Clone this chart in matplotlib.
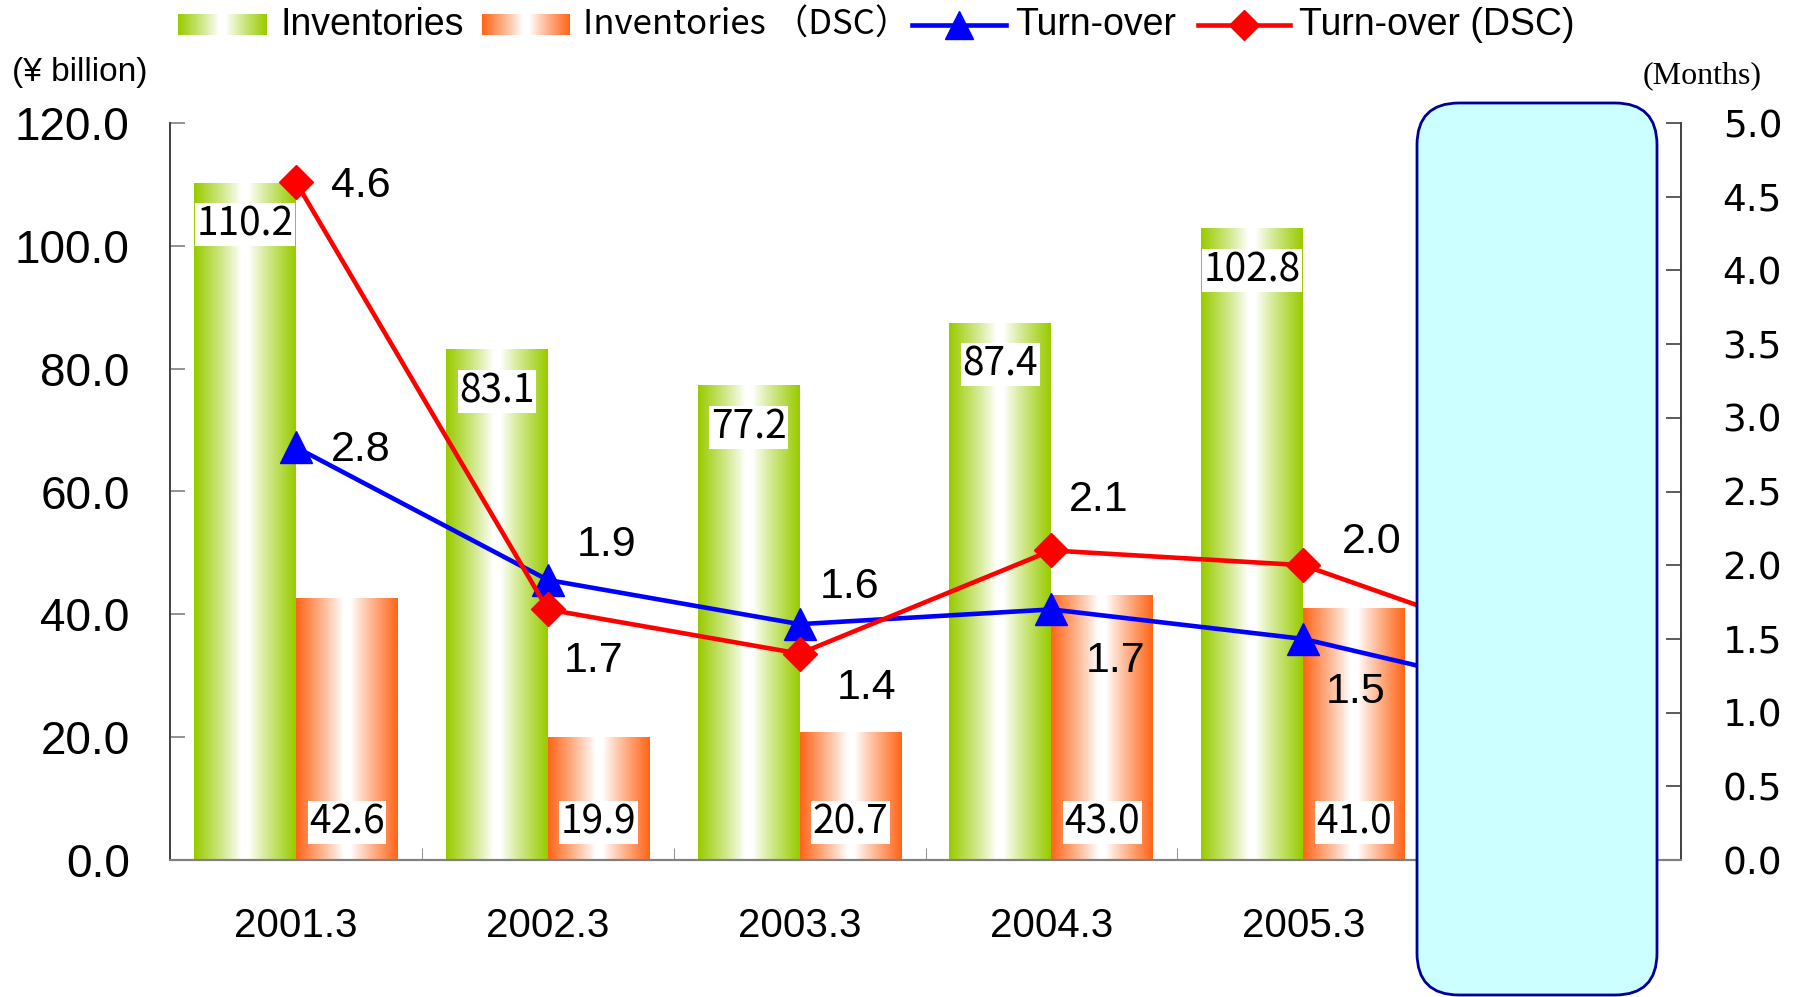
import numpy as np
import matplotlib.pyplot as plt
from matplotlib.patches import FancyBboxPatch
from matplotlib.transforms import IdentityTransform

# data
categories = ["2001.3", "2002.3", "2003.3", "2004.3", "2005.3", "2006.3"]
inventories = [110.2, 83.1, 77.2, 87.4, 102.8]
inventories_dsc = [42.6, 19.9, 20.7, 43.0, 41.0]
turnover = [2.8, 1.9, 1.6, 1.7, 1.5, 1.1]
turnover_dsc = [4.6, 1.7, 1.4, 2.1, 2.0, 1.4]
left_ticks = [0, 20, 40, 60, 80, 100, 120]
right_ticks = [0, 0.5, 1.0, 1.5, 2.0, 2.5, 3.0, 3.5, 4.0, 4.5, 5.0]

# label offsets (points) for the line value labels
off_turn = [(47, -2), (42, 25), (36, 27), (46, -37), (38, -38)]
off_dsc = [(47, -3), (33, -37), (48, -25), (34, 36), (49, 17)]

GREEN = np.array([0.60, 0.80, 0.0])
ORANGE = np.array([1.0, 0.40, 0.10])
narrow = ['Liberation Sans Narrow', 'Liberation Sans', 'DejaVu Sans']
jp = ['Noto Sans CJK JP', 'DejaVu Sans']

def gradient(col, n=80):
    t = np.linspace(-1, 1, n)
    w = np.clip((np.abs(t) - 0.08) / 0.92, 0, 1) ** 0.9
    g = (1 - w)[:, None] * np.ones(3) + w[:, None] * col
    return g[None, :, :]

fig = plt.figure(figsize=(17.98, 9.97), dpi=100)
ax = fig.add_axes([170 / 1798, 1 - 860 / 997, 1511 / 1798, 737 / 997])
ax2 = ax.twinx()

bw = 0.405
x = np.arange(len(categories))
for i, v in enumerate(inventories):
    ax.imshow(gradient(GREEN), extent=(x[i] - bw, x[i], 0, v), aspect='auto', zorder=2)
for i, v in enumerate(inventories_dsc):
    ax.imshow(gradient(ORANGE), extent=(x[i], x[i] + bw, 0, v), aspect='auto', zorder=2)

# green labels just below the bar top, orange labels near the base
for i, v in enumerate(inventories):
    ax.annotate("%.1f" % v, (x[i] - bw / 2, v), xytext=(0, -30), textcoords='offset points',
                ha='center', va='center', fontsize=28, family=jp, zorder=3,
                bbox=dict(facecolor='white', edgecolor='none', pad=1))
for i, v in enumerate(inventories_dsc):
    ax.annotate("%.1f" % v, (x[i] + bw / 2, 0), xytext=(0, 27), textcoords='offset points',
                ha='center', va='center', fontsize=28, family=jp, zorder=3,
                bbox=dict(facecolor='white', edgecolor='none', pad=1))

ax.set_xlim(-0.5, len(categories) - 0.5)
ax.set_ylim(0, 120)
ax.set_yticks(left_ticks)
ax.set_yticklabels(["%.1f" % t for t in left_ticks], family=narrow, fontsize=33)
ax.set_xticks(x)
ax.set_xticklabels(categories, family=narrow, fontsize=29)
ax.set_xticks(np.arange(len(categories) + 1) - 0.5, minor=True)
ax.tick_params(axis='x', which='major', length=0, pad=34)
ax.tick_params(axis='x', which='minor', direction='in', length=9, color='#808080')
ax.tick_params(axis='y', direction='in', length=11, color='#808080', pad=29, width=1.2)

ax2.plot(x, turnover, color='#0000FF', lw=3.3, marker='^', ms=23, zorder=4, clip_on=False)
ax2.plot(x, turnover_dsc, color='#FF0000', lw=3.3, marker='D', ms=17, zorder=5, clip_on=False)
for i, (dx, dy) in enumerate(off_turn):
    ax2.annotate("%.1f" % turnover[i], (x[i], turnover[i]), xytext=(dx, dy),
                 textcoords='offset points', ha='center', va='center', fontsize=31,
                 family='Liberation Sans', zorder=6)
for i, (dx, dy) in enumerate(off_dsc):
    ax2.annotate("%.1f" % turnover_dsc[i], (x[i], turnover_dsc[i]), xytext=(dx, dy),
                 textcoords='offset points', ha='center', va='center', fontsize=31,
                 family='Liberation Sans', zorder=6)
ax2.set_ylim(0, 5)
ax2.set_yticks(right_ticks)
ax2.set_yticklabels(["%.1f" % t for t in right_ticks], family='DejaVu Sans', fontsize=27)
ax2.tick_params(axis='y', direction='in', length=11, color='#404040', pad=30, width=1.2)

for a in (ax, ax2):
    a.spines['top'].set_visible(False)
    a.spines['bottom'].set_color('#808080')
    a.spines['bottom'].set_linewidth(1.5)
    a.spines['left'].set_color('#404040')
    a.spines['right'].set_color('#404040')
    a.spines['left'].set_linewidth(1.2)
    a.spines['right'].set_linewidth(1.2)

# cover box over the last category
box = FancyBboxPatch((1417, 2), 240, 892, boxstyle="round,pad=0,rounding_size=42",
                     transform=IdentityTransform(), facecolor='#CCFFFF',
                     edgecolor='#000099', lw=2, zorder=10)
fig.patches.append(box)

# unit labels
fig.text(12 / 1798, 1 - 73 / 997, "(¥ billion)", family=narrow, fontsize=24, va='center')
fig.text(1762 / 1798, 1 - 76 / 997, "(Months)", family='Liberation Serif', fontsize=23,
         va='center', ha='right')

# legend drawn in a pixel overlay
lg = fig.add_axes([0, 0, 1, 1], zorder=20)
lg.set_xlim(0, 1798)
lg.set_ylim(997, 0)
lg.axis('off')
yc = 25
lg.imshow(gradient(GREEN), extent=(178, 267, 35, 14), aspect='auto')
lg.text(281, yc, "Inventories", family=narrow, fontsize=27, va='center')
lg.imshow(gradient(ORANGE), extent=(482, 570, 35, 14), aspect='auto')
lg.text(583, yc, "Inventories （DSC）", family=jp, fontsize=25, va='center')
lg.plot([912, 1006], [yc, yc], color='#0000FF', lw=3.3)
lg.plot([959], [yc], color='#0000FF', marker='^', ms=20)
lg.text(1015, yc, "Turn-over", family=narrow, fontsize=27, va='center')
lg.plot([1198, 1290], [yc, yc], color='#FF0000', lw=3.3)
lg.plot([1244], [yc], color='#FF0000', marker='D', ms=15)
lg.text(1299, yc, "Turn-over (DSC)", family=narrow, fontsize=27, va='center')
lg.set_xlim(0, 1798)
lg.set_ylim(997, 0)

fig.savefig("out.png", dpi=100)
